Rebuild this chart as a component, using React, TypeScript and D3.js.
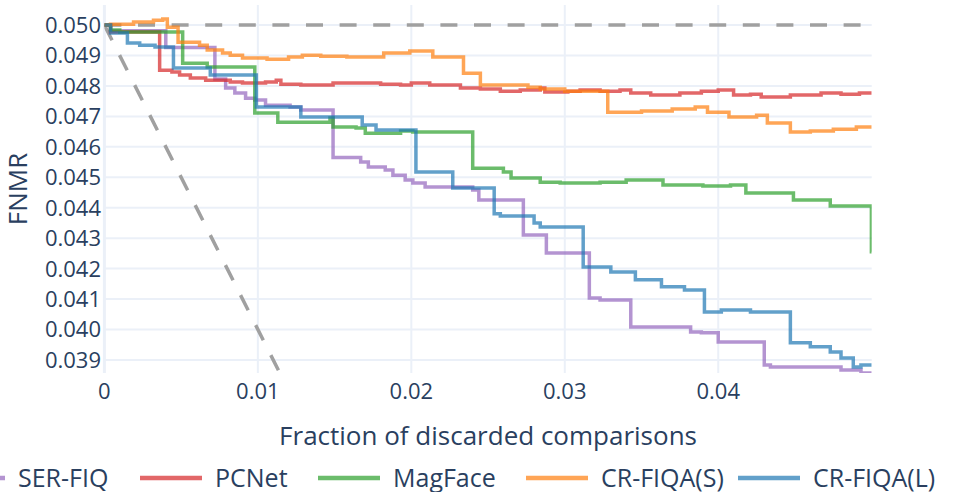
import React from "react";
import * as d3 from "d3";

const seriesNames = ["SER-FIQ", "PCNet", "MagFace", "CR-FIQA(S)", "CR-FIQA(L)"];
const seriesColors = ["#9467bd", "#d62728", "#2ca02c", "#ff7f0e", "#1f77b4"];

const serFiq: [number, number][] = [
  [0, 0.05], [0.0004, 0.04981], [0.004, 0.04926], [0.0072, 0.04823], [0.0079, 0.04793],
  [0.0085, 0.04777], [0.0092, 0.0476], [0.0098, 0.04754], [0.0105, 0.04737], [0.0121, 0.04731],
  [0.0128, 0.04721], [0.0149, 0.04565], [0.0167, 0.0455], [0.0172, 0.04534], [0.0183, 0.04524],
  [0.0188, 0.04507], [0.0196, 0.04491], [0.0201, 0.04481], [0.0209, 0.04468], [0.024, 0.04458],
  [0.0244, 0.04425], [0.0273, 0.0431], [0.0288, 0.04251], [0.0316, 0.04103], [0.0323, 0.04097],
  [0.0343, 0.04008], [0.0382, 0.03992], [0.0389, 0.03989], [0.04, 0.03959], [0.043, 0.03883],
  [0.0434, 0.03877], [0.048, 0.03867], [0.0493, 0.03857], [0.05, 0.03857],
];

const pcNet: [number, number][] = [
  [0, 0.05], [0.0004, 0.04977], [0.0036, 0.04852], [0.0044, 0.04846], [0.0049, 0.04836],
  [0.0056, 0.04826], [0.0066, 0.04819], [0.0082, 0.04813], [0.009, 0.0481], [0.0105, 0.04813],
  [0.0112, 0.04819], [0.0115, 0.04806], [0.0128, 0.04803], [0.0149, 0.0481], [0.018, 0.04806],
  [0.0193, 0.04803], [0.02, 0.0481], [0.0212, 0.04803], [0.0232, 0.04793], [0.0245, 0.0479],
  [0.0258, 0.04783], [0.0271, 0.04787], [0.0284, 0.04793], [0.0287, 0.0478], [0.0302, 0.04783],
  [0.031, 0.04787], [0.0323, 0.04783], [0.0336, 0.04787], [0.0343, 0.04777], [0.0356, 0.0477],
  [0.0375, 0.04777], [0.0389, 0.04783], [0.04, 0.04787], [0.041, 0.0477], [0.0421, 0.04773],
  [0.0428, 0.04764], [0.0447, 0.0477], [0.0467, 0.04777], [0.048, 0.04773], [0.0492, 0.04777],
  [0.05, 0.04777],
];

const magFace: [number, number][] = [
  [0, 0.05], [0.0004, 0.04984], [0.001, 0.04977], [0.0051, 0.04875], [0.0067, 0.04862],
  [0.0098, 0.04711], [0.0113, 0.04681], [0.0147, 0.04695], [0.0149, 0.04665], [0.0164, 0.04662],
  [0.017, 0.04645], [0.0193, 0.04652], [0.0201, 0.04649], [0.024, 0.0453], [0.026, 0.04517],
  [0.0265, 0.04498], [0.0284, 0.04484], [0.0297, 0.04481], [0.0323, 0.04484], [0.034, 0.04491],
  [0.0364, 0.04475], [0.039, 0.04471], [0.0408, 0.04475], [0.0418, 0.04448], [0.0434, 0.04448],
  [0.0449, 0.04425], [0.0473, 0.04406], [0.04998, 0.04255], [0.05, 0.04255],
];

const crFiqaS: [number, number][] = [
  [0, 0.05], [0.0004, 0.05003], [0.0019, 0.0501], [0.0032, 0.05016], [0.0038, 0.0502],
  [0.0041, 0.04993], [0.0048, 0.04944], [0.0062, 0.04934], [0.0067, 0.04918], [0.0077, 0.04908],
  [0.0082, 0.04901], [0.009, 0.04892], [0.0106, 0.04888], [0.012, 0.04895], [0.0129, 0.04901],
  [0.0141, 0.04898], [0.0158, 0.04895], [0.0182, 0.04908], [0.0199, 0.04915], [0.0214, 0.04895],
  [0.0234, 0.04842], [0.0245, 0.04803], [0.0276, 0.04796], [0.0284, 0.0479], [0.03, 0.04783],
  [0.0328, 0.04714], [0.035, 0.04718], [0.037, 0.04724], [0.0385, 0.04731], [0.0393, 0.04714],
  [0.0407, 0.04698], [0.0425, 0.04704], [0.0432, 0.04678], [0.0447, 0.04649], [0.046, 0.04652],
  [0.0475, 0.04658], [0.049, 0.04665], [0.05, 0.04665],
];

const crFiqaL: [number, number][] = [
  [0, 0.05], [0.0004, 0.04974], [0.0015, 0.04941], [0.0023, 0.04934], [0.0033, 0.04928],
  [0.0045, 0.04859], [0.0069, 0.04836], [0.0099, 0.04731], [0.0128, 0.04698], [0.0168, 0.04672],
  [0.0177, 0.04655], [0.0203, 0.04517], [0.0227, 0.04465], [0.0254, 0.0438], [0.0258, 0.04373],
  [0.028, 0.0435], [0.0284, 0.04337], [0.0312, 0.04205], [0.033, 0.04189], [0.0346, 0.04163],
  [0.0363, 0.0414], [0.0378, 0.0413], [0.0391, 0.04057], [0.0402, 0.04064], [0.0421, 0.04057],
  [0.0447, 0.03956], [0.046, 0.03943], [0.0473, 0.03926], [0.048, 0.03906], [0.0488, 0.03877],
  [0.0493, 0.03883], [0.05, 0.03883],
];

const seriesData = [serFiq, pcNet, magFace, crFiqaS, crFiqaL];

const xTicks = [0, 0.01, 0.02, 0.03, 0.04];
const xTickLabels = ["0", "0.01", "0.02", "0.03", "0.04"];
const yTicks = [0.039, 0.04, 0.041, 0.042, 0.043, 0.044, 0.045, 0.046, 0.047, 0.048, 0.049, 0.05];
const yTickLabels = ["0.039", "0.040", "0.041", "0.042", "0.043", "0.044", "0.045", "0.046", "0.047", "0.048", "0.049", "0.050"];

const xDomain = [0, 0.05];
const yDomain = [0.03857, 0.05066];
const baselineFNMR = 0.05;

const W = 953;
const H = 492;
const L = 104.4, R = 871.7, T = 5, B = 373;
const FONT = '"Open Sans", verdana, arial, sans-serif';
const TXT = "#2a3f5f";
const legendX = [-57, 140, 318, 526, 738];

export default function App() {
  const x = d3.scaleLinear().domain(xDomain).range([L, R]);
  const y = d3.scaleLinear().domain(yDomain).range([B, T]);
  const line = d3
    .line<[number, number]>()
    .x((d) => x(d[0]))
    .y((d) => y(d[1]))
    .curve(d3.curveStepAfter);
  const plain = d3
    .line<[number, number]>()
    .x((d) => x(d[0]))
    .y((d) => y(d[1]));

  const diag: [number, number][] = [
    [0, baselineFNMR],
    [baselineFNMR - yDomain[0] + 0.0003, yDomain[0] - 0.0003],
  ];
  const horiz: [number, number][] = [
    [0, baselineFNMR],
    [xDomain[1], baselineFNMR],
  ];

  return (
    <svg
      width={W}
      height={H}
      style={{ position: "absolute", left: 0, top: 0, background: "#fff" }}
      fontFamily={FONT}
    >
      <defs>
        <clipPath id="plotclip">
          <rect x={L} y={T} width={R - L} height={B - T} />
        </clipPath>
      </defs>
      {yTicks.map((t) => (
        <line key={"gy" + t} x1={L} x2={R} y1={y(t)} y2={y(t)} stroke="#ebf0f8" strokeWidth={2} />
      ))}
      {xTicks.map((t) => (
        <line
          key={"gx" + t}
          x1={x(t)}
          x2={x(t)}
          y1={T}
          y2={B}
          stroke="#ebf0f8"
          strokeWidth={t === 0 ? 3 : 2}
        />
      ))}
      <g clipPath="url(#plotclip)">
        <path d={plain(horiz) || ""} fill="none" stroke="#a0a0a0" strokeWidth={3.5} strokeDasharray="17,16.6" />
        <path d={plain(diag) || ""} fill="none" stroke="#a0a0a0" strokeWidth={3.5} strokeDasharray="17,16.6" />
        {seriesData.map((s, i) => (
          <path
            key={seriesNames[i]}
            d={line(s) || ""}
            fill="none"
            stroke={seriesColors[i]}
            strokeOpacity={0.7}
            strokeWidth={3.5}
          />
        ))}
      </g>
      {yTicks.map((t, i) => (
        <text
          key={"yl" + t}
          x={101}
          y={y(t)}
          dy="0.36em"
          textAnchor="end"
          fontSize={22}
          fill={TXT}
        >
          {yTickLabels[i]}
        </text>
      ))}
      {xTicks.map((t, i) => (
        <text key={"xl" + t} x={x(t)} y={399} textAnchor="middle" fontSize={22} fill={TXT}>
          {xTickLabels[i]}
        </text>
      ))}
      <text x={(L + R) / 2} y={445} textAnchor="middle" fontSize={26} fill={TXT}>
        Fraction of discarded comparisons
      </text>
      <text
        transform={`translate(${27},${(T + B) / 2}) rotate(-90)`}
        textAnchor="middle"
        fontSize={26}
        fill={TXT}
      >
        FNMR
      </text>
      {seriesNames.map((n, i) => (
        <g key={"lg" + n} transform={`translate(${legendX[i]},${478})`}>
          <line x1={0} x2={62} y1={0} y2={0} stroke={seriesColors[i]} strokeOpacity={0.7} strokeWidth={4.5} />
          <text x={75} y={0} dy="0.36em" fontSize={25} fill={TXT}>
            {n}
          </text>
        </g>
      ))}
    </svg>
  );
}
